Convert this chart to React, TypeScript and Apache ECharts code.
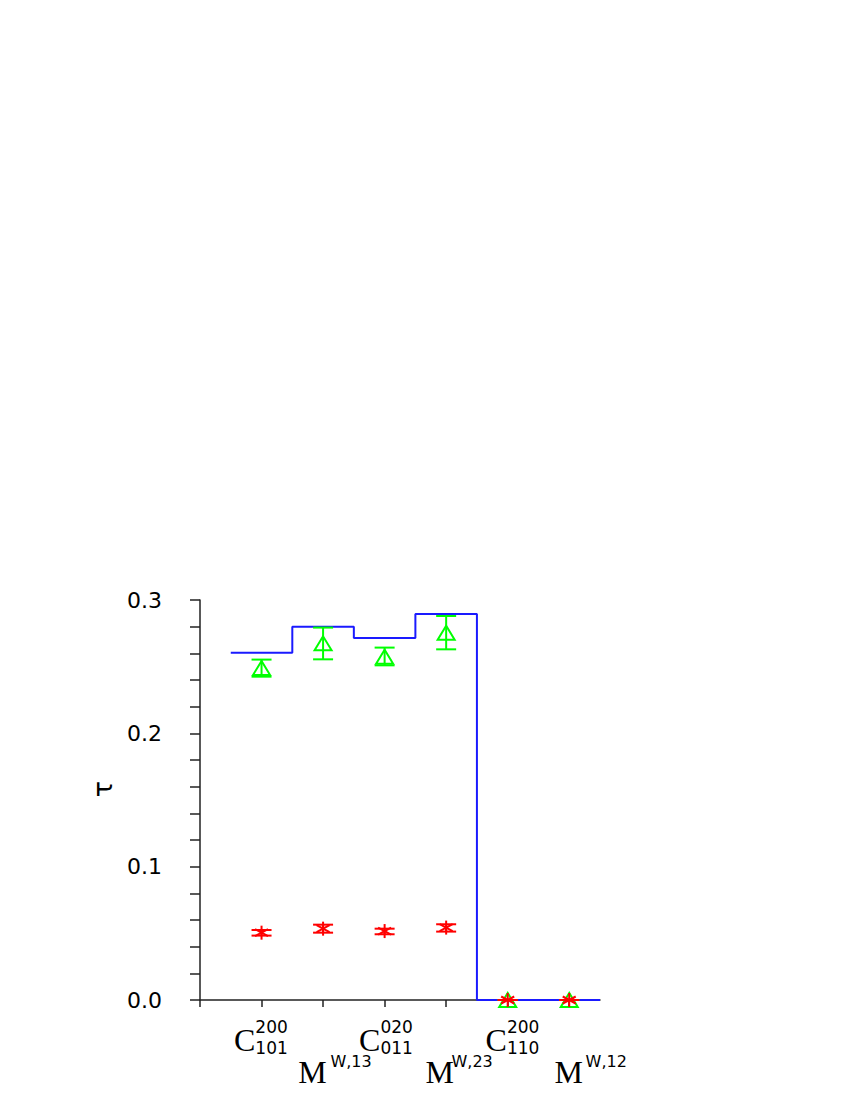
import React, { useEffect, useRef } from 'react';
import * as echarts from 'echarts';

// ---- data ----
const categoryIndex = [0, 1, 2, 3, 4, 5];
const labelBase = ['C', 'M', 'C', 'M', 'C', 'M'];
const labelSup = ['200', 'W,13', '020', 'W,23', '200', 'W,12'];
const labelSub = ['101', '', '011', '', '110', ''];

const blueLevels = [0.2605, 0.28, 0.2715, 0.2895, 0, 0];

const greenMean = [0.249, 0.2675, 0.2575, 0.2755, 0, 0];
const greenLow = [0.2425, 0.2555, 0.251, 0.263, 0, 0];
const greenHigh = [0.2553, 0.2793, 0.2643, 0.288, 0, 0];

const redMean = [0.0505, 0.0535, 0.0517, 0.0543, 0, 0];
const redLow = [0.0483, 0.0505, 0.0493, 0.0513, 0, 0];
const redHigh = [0.0525, 0.0565, 0.0535, 0.0568, 0, 0];

const yTicks = [0, 0.1, 0.2, 0.3];

// ---- label layout styling (per-label horizontal spacers, gaps) ----
const cSpacer: Record<number, number> = { 0: 0, 2: 4, 4: 11 };
const mSpacer: Record<number, number> = { 1: 26, 3: 28, 5: 45 };
const mGap: Record<number, number> = { 1: 7, 3: 1, 5: 6 };

const AXIS_COLOR = '#222';
const SANS = 'DejaVu Sans';
const SERIF = 'Liberation Serif';

function buildRich() {
  const rich: Record<string, any> = {
    gc: { width: 20, lineHeight: 12 },
    sup: { width: 34, fontSize: 17, fontFamily: SANS, color: '#000', lineHeight: 12 },
    c: { width: 20, fontSize: 32, fontFamily: SERIF, color: '#000', lineHeight: 30, height: 14, verticalAlign: 'top' },
    sub: { width: 34, fontSize: 17, fontFamily: SANS, color: '#000', lineHeight: 30, height: 30, verticalAlign: 'top' },
    m: { width: 23, fontSize: 32, fontFamily: SERIF, color: '#000', lineHeight: 26, height: 23, verticalAlign: 'top' },
    ms: { width: 40, fontSize: 16, fontFamily: SANS, color: '#000', lineHeight: 26, height: 2, verticalAlign: 'top' },
  };
  Object.keys(cSpacer).forEach((k) => {
    rich['cs' + k] = { width: Math.max(cSpacer[+k], 0.01), lineHeight: 12 };
  });
  Object.keys(mSpacer).forEach((k) => {
    rich['msp' + k] = { width: mSpacer[+k], lineHeight: 2, height: 2, verticalAlign: 'top' };
    rich['mg' + k] = { width: Math.max(mGap[+k], 0.01), lineHeight: 2, height: 2, verticalAlign: 'top' };
  });
  return rich;
}

function cFormatter(value: number) {
  const i = Math.round(value);
  if (Math.abs(value - i) > 1e-6 || i < 0 || i > 5 || labelBase[i] !== 'C') return '';
  return `{cs${i}| }{gc| }{sup|${labelSup[i]}}\n{cs${i}| }{c|${labelBase[i]}}{sub|${labelSub[i]}}`;
}

function mFormatter(value: number) {
  const i = Math.round(value);
  if (Math.abs(value - i) > 1e-6 || i < 0 || i > 5 || labelBase[i] !== 'M') return '';
  return `{msp${i}| }{m|${labelBase[i]}}{mg${i}| }{ms|${labelSup[i]}}`;
}

function makeRender(color: string, kind: 'tri' | 'star') {
  return (params: any, api: any) => {
    const x = api.value(0);
    const m = api.value(1);
    const lo = api.value(2);
    const hi = api.value(3);
    const p = api.coord([x, m]);
    const pl = api.coord([x, lo]);
    const ph = api.coord([x, hi]);
    const style = { stroke: color, lineWidth: 2, fill: 'none' };
    const cw = 10;
    const children: any[] = [
      { type: 'line', shape: { x1: p[0], y1: ph[1], x2: p[0], y2: pl[1] }, style },
      { type: 'line', shape: { x1: p[0] - cw, y1: ph[1], x2: p[0] + cw, y2: ph[1] }, style },
      { type: 'line', shape: { x1: p[0] - cw, y1: pl[1], x2: p[0] + cw, y2: pl[1] }, style },
    ];
    if (kind === 'tri') {
      children.push({
        type: 'polygon',
        shape: { points: [[p[0], p[1] - 7], [p[0] - 8.5, p[1] + 7], [p[0] + 8.5, p[1] + 7]] },
        style,
      });
    } else {
      const r = 7;
      children.push({ type: 'line', shape: { x1: p[0], y1: p[1] - r, x2: p[0], y2: p[1] + r }, style });
      children.push({ type: 'line', shape: { x1: p[0] - 6.5, y1: p[1] - 3.5, x2: p[0] + 6.5, y2: p[1] + 3.5 }, style });
      children.push({ type: 'line', shape: { x1: p[0] - 6.5, y1: p[1] + 3.5, x2: p[0] + 6.5, y2: p[1] - 3.5 }, style });
    }
    return { type: 'group', children };
  };
}

export default function App() {
  const ref = useRef<HTMLDivElement>(null);

  useEffect(() => {
    if (!ref.current) return;
    const chart = echarts.init(ref.current, undefined, { renderer: 'svg' });

    const stepData: number[][] = [];
    categoryIndex.forEach((i) => {
      stepData.push([i - 0.5, blueLevels[i]]);
      stepData.push([i + 0.5, blueLevels[i]]);
    });

    const greenData = categoryIndex.map((i) => [i, greenMean[i], greenLow[i], greenHigh[i]]);
    const redData = categoryIndex.map((i) => [i, redMean[i], redLow[i], redHigh[i]]);

    const rich = buildRich();

    chart.setOption({
      animation: false,
      backgroundColor: '#fff',
      grid: { left: 200, top: 600, width: 400, height: 400, containLabel: false },
      xAxis: [
        {
          type: 'value',
          min: -1,
          max: 5.5,
          interval: 1,
          position: 'bottom',
          splitLine: { show: false },
          axisLine: { show: true, onZero: false, lineStyle: { color: AXIS_COLOR, width: 1.5 } },
          axisTick: {
            show: true,
            length: 7,
            inside: false,
            customValues: [-1, 0, 1, 2, 3, 4, 5],
            lineStyle: { color: AXIS_COLOR, width: 1.5 },
          },
          axisLabel: {
            show: true,
            margin: 21,
            customValues: [0, 2, 4],
            formatter: cFormatter,
            rich,
          },
        },
        {
          type: 'value',
          min: -1,
          max: 5.5,
          interval: 1,
          position: 'bottom',
          splitLine: { show: false },
          axisLine: { show: false, onZero: false },
          axisTick: { show: false },
          axisLabel: {
            show: true,
            margin: 60,
            customValues: [1, 3, 5],
            formatter: mFormatter,
            rich,
          },
        },
      ],
      yAxis: {
        type: 'value',
        min: 0,
        max: 0.3,
        interval: 0.1,
        name: 'τ',
        nameLocation: 'middle',
        nameRotate: 90,
        nameGap: 84,
        nameTextStyle: { fontSize: 27, fontFamily: SANS, color: '#000', padding: [0, 0, 0, 22] },
        splitLine: { show: false },
        axisLine: { show: true, onZero: false, lineStyle: { color: AXIS_COLOR, width: 1.5 } },
        axisTick: { show: true, length: 10, customValues: yTicks, lineStyle: { color: AXIS_COLOR, width: 1.5 } },
        minorTick: { show: true, splitNumber: 5, length: 10, lineStyle: { color: AXIS_COLOR, width: 1.5 } },
        axisLabel: {
          margin: 38,
          customValues: yTicks,
          formatter: (v: number) => v.toFixed(1),
          fontSize: 22,
          fontFamily: SANS,
          color: '#000',
        },
      },
      series: [
        {
          type: 'line',
          data: stepData,
          showSymbol: false,
          symbol: 'none',
          lineStyle: { color: '#1a1aff', width: 2 },
          clip: false,
          z: 2,
        },
        {
          type: 'custom',
          renderItem: makeRender('#00ff00', 'tri'),
          data: greenData,
          encode: { x: 0, y: 1 },
          clip: false,
          z: 3,
        },
        {
          type: 'custom',
          renderItem: makeRender('#ff0000', 'star'),
          data: redData,
          encode: { x: 0, y: 1 },
          clip: false,
          z: 4,
        },
      ],
    });

    return () => chart.dispose();
  }, []);

  return (
    <div
      ref={ref}
      style={{ position: 'absolute', left: 0, top: 0, width: 850, height: 1100 }}
    />
  );
}
